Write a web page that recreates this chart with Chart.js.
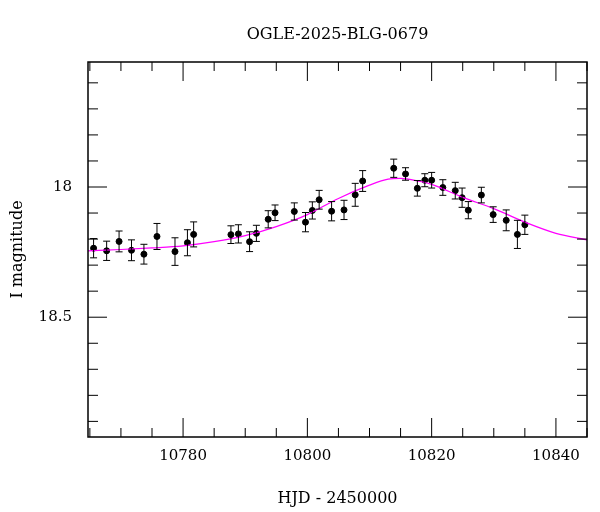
<!DOCTYPE html>
<html>
<head>
<meta charset="utf-8">
<script src="https://cdn.jsdelivr.net/npm/chart.js@4"></script>
<style>
  body { margin: 0; background: #fff; }
  #wrap { width: 600px; height: 512px; }
</style>
</head>
<body>
<div id="wrap"><canvas id="lc" width="600" height="512"></canvas></div>
<script>
// photometry (HJD - 2450000, I mag, error)
const hjd = [10765.6, 10767.7, 10769.7, 10771.7, 10773.7, 10775.8, 10778.7, 10780.7, 10781.7,
  10787.7, 10788.9, 10790.7, 10791.8, 10793.7, 10794.8, 10797.9, 10799.7, 10800.8, 10801.9,
  10803.9, 10805.9, 10807.7, 10808.9, 10813.9, 10815.8, 10817.7, 10818.9, 10820.0, 10821.8,
  10823.8, 10824.9, 10825.9, 10828.0, 10829.9, 10832.0, 10833.8, 10835.0];
const mag = [18.235, 18.245, 18.209, 18.243, 18.258, 18.19, 18.248, 18.214, 18.182,
  18.183, 18.18, 18.21, 18.178, 18.124, 18.099, 18.094, 18.135, 18.09, 18.049,
  18.093, 18.088, 18.03, 17.977, 17.928, 17.95, 18.005, 17.974, 17.974, 18.002,
  18.014, 18.041, 18.089, 18.031, 18.106, 18.128, 18.182, 18.145];
const magErr = [0.037, 0.037, 0.04, 0.04, 0.038, 0.05, 0.053, 0.05, 0.048,
  0.034, 0.035, 0.038, 0.031, 0.033, 0.03, 0.033, 0.037, 0.033, 0.036,
  0.037, 0.037, 0.044, 0.04, 0.035, 0.024, 0.03, 0.025, 0.03, 0.03,
  0.032, 0.037, 0.033, 0.03, 0.03, 0.04, 0.054, 0.037];

// model curve
const modelX = [10764.7, 10770, 10775, 10780, 10785, 10790, 10795, 10800, 10805, 10810,
  10813, 10815, 10818, 10820, 10825, 10830, 10835, 10840, 10845];
const modelY = [18.245, 18.24, 18.234, 18.226, 18.21, 18.187, 18.152, 18.106, 18.044, 17.993,
  17.97, 17.967, 17.978, 17.99, 18.04, 18.083, 18.135, 18.178, 18.203];

const xMajor = [10780, 10800, 10820, 10840];
const yMajor = [18, 18.5];
const titleText = 'OGLE-2025-BLG-0679';

const serif = '"DejaVu Serif", "Liberation Serif", serif';

const framePlugin = {
  id: 'frame',
  afterDatasetsDraw(chart) {
    const { ctx, chartArea: a, scales: { x, y } } = chart;
    ctx.save();
    // title, centred over the plot box
    ctx.fillStyle = '#000';
    ctx.font = '16px ' + serif;
    ctx.textAlign = 'center';
    ctx.textBaseline = 'middle';
    ctx.fillText(titleText, (a.left + a.right) / 2, 35);
    // error bars
    ctx.strokeStyle = '#000';
    ctx.lineWidth = 1;
    hjd.forEach((t, i) => {
      const px = x.getPixelForValue(t);
      const y1 = y.getPixelForValue(mag[i] - magErr[i]);
      const y2 = y.getPixelForValue(mag[i] + magErr[i]);
      ctx.beginPath();
      ctx.moveTo(px, y1); ctx.lineTo(px, y2);
      ctx.moveTo(px - 3.5, y1); ctx.lineTo(px + 3.5, y1);
      ctx.moveTo(px - 3.5, y2); ctx.lineTo(px + 3.5, y2);
      ctx.stroke();
    });
    // frame
    ctx.lineWidth = 1.5;
    ctx.strokeRect(a.left, a.top, a.right - a.left, a.bottom - a.top);
    ctx.lineWidth = 1;
    // x ticks
    for (let v = 10765; v <= 10845; v += 5) {
      const px = x.getPixelForValue(v);
      if (px < a.left || px > a.right) continue;
      const len = v % 20 === 0 ? 19 : 9;
      ctx.beginPath();
      ctx.moveTo(px, a.bottom); ctx.lineTo(px, a.bottom - len);
      ctx.moveTo(px, a.top); ctx.lineTo(px, a.top + len);
      ctx.stroke();
    }
    // y ticks
    for (let k = 176; k <= 189; k++) {
      const py = y.getPixelForValue(k / 10);
      if (py < a.top || py > a.bottom) continue;
      const len = k % 5 === 0 ? 19 : 10;
      ctx.beginPath();
      ctx.moveTo(a.left, py); ctx.lineTo(a.left + len, py);
      ctx.moveTo(a.right, py); ctx.lineTo(a.right - len, py);
      ctx.stroke();
    }
    ctx.restore();
  }
};

new Chart(document.getElementById('lc'), {
  type: 'scatter',
  data: {
    datasets: [
      {
        type: 'line',
        data: modelX.map((t, i) => ({ x: t, y: modelY[i] })),
        borderColor: '#ff00ff',
        borderWidth: 1.2,
        pointRadius: 0,
        cubicInterpolationMode: 'monotone',
        fill: false
      },
      {
        data: hjd.map((t, i) => ({ x: t, y: mag[i] })),
        backgroundColor: '#000',
        borderColor: '#000',
        pointRadius: 3,
        pointHoverRadius: 3
      }
    ]
  },
  options: {
    responsive: false,
    animation: false,
    events: [],
    layout: { padding: { top: 62, right: 13 } },
    plugins: {
      legend: { display: false },
      tooltip: { enabled: false },
      title: { display: false }
    },
    scales: {
      x: {
        type: 'linear',
        min: 10764.7,
        max: 10845,
        grid: { display: false },
        border: { display: false },
        afterBuildTicks: s => { s.ticks = xMajor.map(v => ({ value: v })); },
        afterFit: s => { s.height = 75; },
        ticks: { color: '#000', font: { family: serif, size: 15 }, padding: 2, maxRotation: 0,
          callback: v => String(v) },
        title: { display: true, text: 'HJD - 2450000', color: '#000', font: { family: serif, size: 16 }, padding: { top: 4 } }
      },
      y: {
        reverse: true,
        min: 17.52,
        max: 18.96,
        grid: { display: false },
        border: { display: false },
        afterBuildTicks: s => { s.ticks = yMajor.map(v => ({ value: v })); },
        afterFit: s => { s.width = 88; },
        ticks: { color: '#000', font: { family: serif, size: 15 }, padding: 8,
          callback: v => String(v) },
        title: { display: true, text: 'I magnitude', color: '#000', font: { family: serif, size: 16 }, padding: { top: 8, bottom: 0 } }
      }
    }
  },
  plugins: [framePlugin]
});
</script>
</body>
</html>
